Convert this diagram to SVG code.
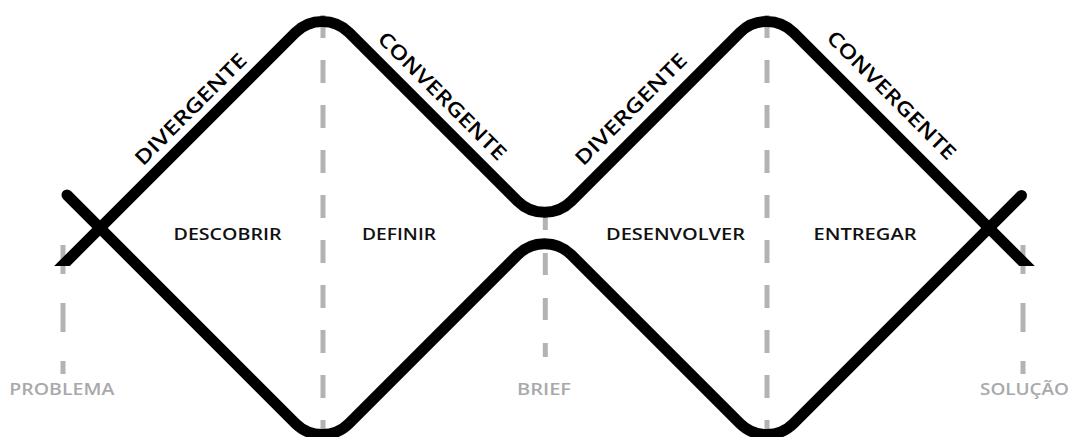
<svg xmlns="http://www.w3.org/2000/svg" width="1071" height="437" viewBox="0 0 1071 437">
  <style>
    .curve { fill: none; stroke: #000; stroke-width: 11; stroke-linecap: round; stroke-linejoin: round; }
    .dash { stroke: #b3b3b5; stroke-width: 5; fill: none; }
    .phase { font-family: "Open Sans", "DejaVu Sans", sans-serif; font-size: 16.5px; font-weight: 600; fill: #111; text-anchor: middle; }
    .milestone { font-family: "Open Sans", "DejaVu Sans", sans-serif; font-size: 16.5px; font-weight: 600; fill: #a9a9ab; text-anchor: middle; }
    .mode { font-family: "Open Sans", "DejaVu Sans", sans-serif; font-size: 20px; font-weight: 600; fill: #000; text-anchor: middle; }
  </style>
  <defs>
    <clipPath id="endclip">
      <path d="M0,0 H1071 V266 H1015 V437 H75 V266 H0 Z"/>
    </clipPath>
  </defs>
  <rect width="1071" height="437" fill="#fff"/>

  <g id="dividers">
    <line class="dash" x1="63" y1="245" x2="63" y2="374" stroke-dasharray="29 29"/>
    <line class="dash" x1="323" y1="15" x2="323" y2="437" stroke-dasharray="23 22"/>
    <line class="dash" x1="545.3" y1="208" x2="545.3" y2="357" stroke-dasharray="22 23"/>
    <line class="dash" x1="767" y1="15" x2="767" y2="437" stroke-dasharray="23 22"/>
    <line class="dash" x1="1023" y1="245" x2="1023" y2="374" stroke-dasharray="29 29"/>
  </g>

  <g id="connectors" clip-path="url(#endclip)">
    <path id="upper-curve" class="curve" d="M57,271 L295.38,32.62 A38,38 0 0 1 349.12,32.62 L517.63,201.13 A38,38 0 0 0 571.37,201.13 L739.88,32.62 A38,38 0 0 1 793.62,32.62 L1032,271"/>
    <path id="lower-curve" class="curve" d="M67,195 L295.38,423.38 A38,38 0 0 0 349.12,423.38 L517.63,254.87 A38,38 0 0 1 571.37,254.87 L739.88,423.38 A38,38 0 0 0 793.62,423.38 L1021.5,195.5"/>
  </g>

  <g id="node-divergente-1">
    <text class="mode" x="195.6" y="114.1" transform="rotate(-45 195.6 114.1)" textLength="149" lengthAdjust="spacingAndGlyphs">DIVERGENTE</text>
  </g>
  <g id="node-convergente-1">
    <text class="mode" x="437.4" y="100.9" transform="rotate(45 437.4 100.9)" textLength="172" lengthAdjust="spacingAndGlyphs">CONVERGENTE</text>
  </g>
  <g id="node-divergente-2">
    <text class="mode" x="635.9" y="114.1" transform="rotate(-45 635.9 114.1)" textLength="149" lengthAdjust="spacingAndGlyphs">DIVERGENTE</text>
  </g>
  <g id="node-convergente-2">
    <text class="mode" x="886.6" y="100.1" transform="rotate(45 886.6 100.1)" textLength="173" lengthAdjust="spacingAndGlyphs">CONVERGENTE</text>
  </g>

  <g id="node-descobrir"><text class="phase" x="227.5" y="240" textLength="108" lengthAdjust="spacingAndGlyphs">DESCOBRIR</text></g>
  <g id="node-definir"><text class="phase" x="399" y="240" textLength="74" lengthAdjust="spacingAndGlyphs">DEFINIR</text></g>
  <g id="node-desenvolver"><text class="phase" x="675.5" y="240" textLength="139" lengthAdjust="spacingAndGlyphs">DESENVOLVER</text></g>
  <g id="node-entregar"><text class="phase" x="865" y="240" textLength="103" lengthAdjust="spacingAndGlyphs">ENTREGAR</text></g>

  <g id="node-problema"><text class="milestone" x="61.8" y="395" textLength="105" lengthAdjust="spacingAndGlyphs">PROBLEMA</text></g>
  <g id="node-brief"><text class="milestone" x="544" y="395" textLength="54" lengthAdjust="spacingAndGlyphs">BRIEF</text></g>
  <g id="node-solucao"><text class="milestone" x="1024.5" y="395" textLength="89" lengthAdjust="spacingAndGlyphs">SOLUÇÃO</text></g>
</svg>
